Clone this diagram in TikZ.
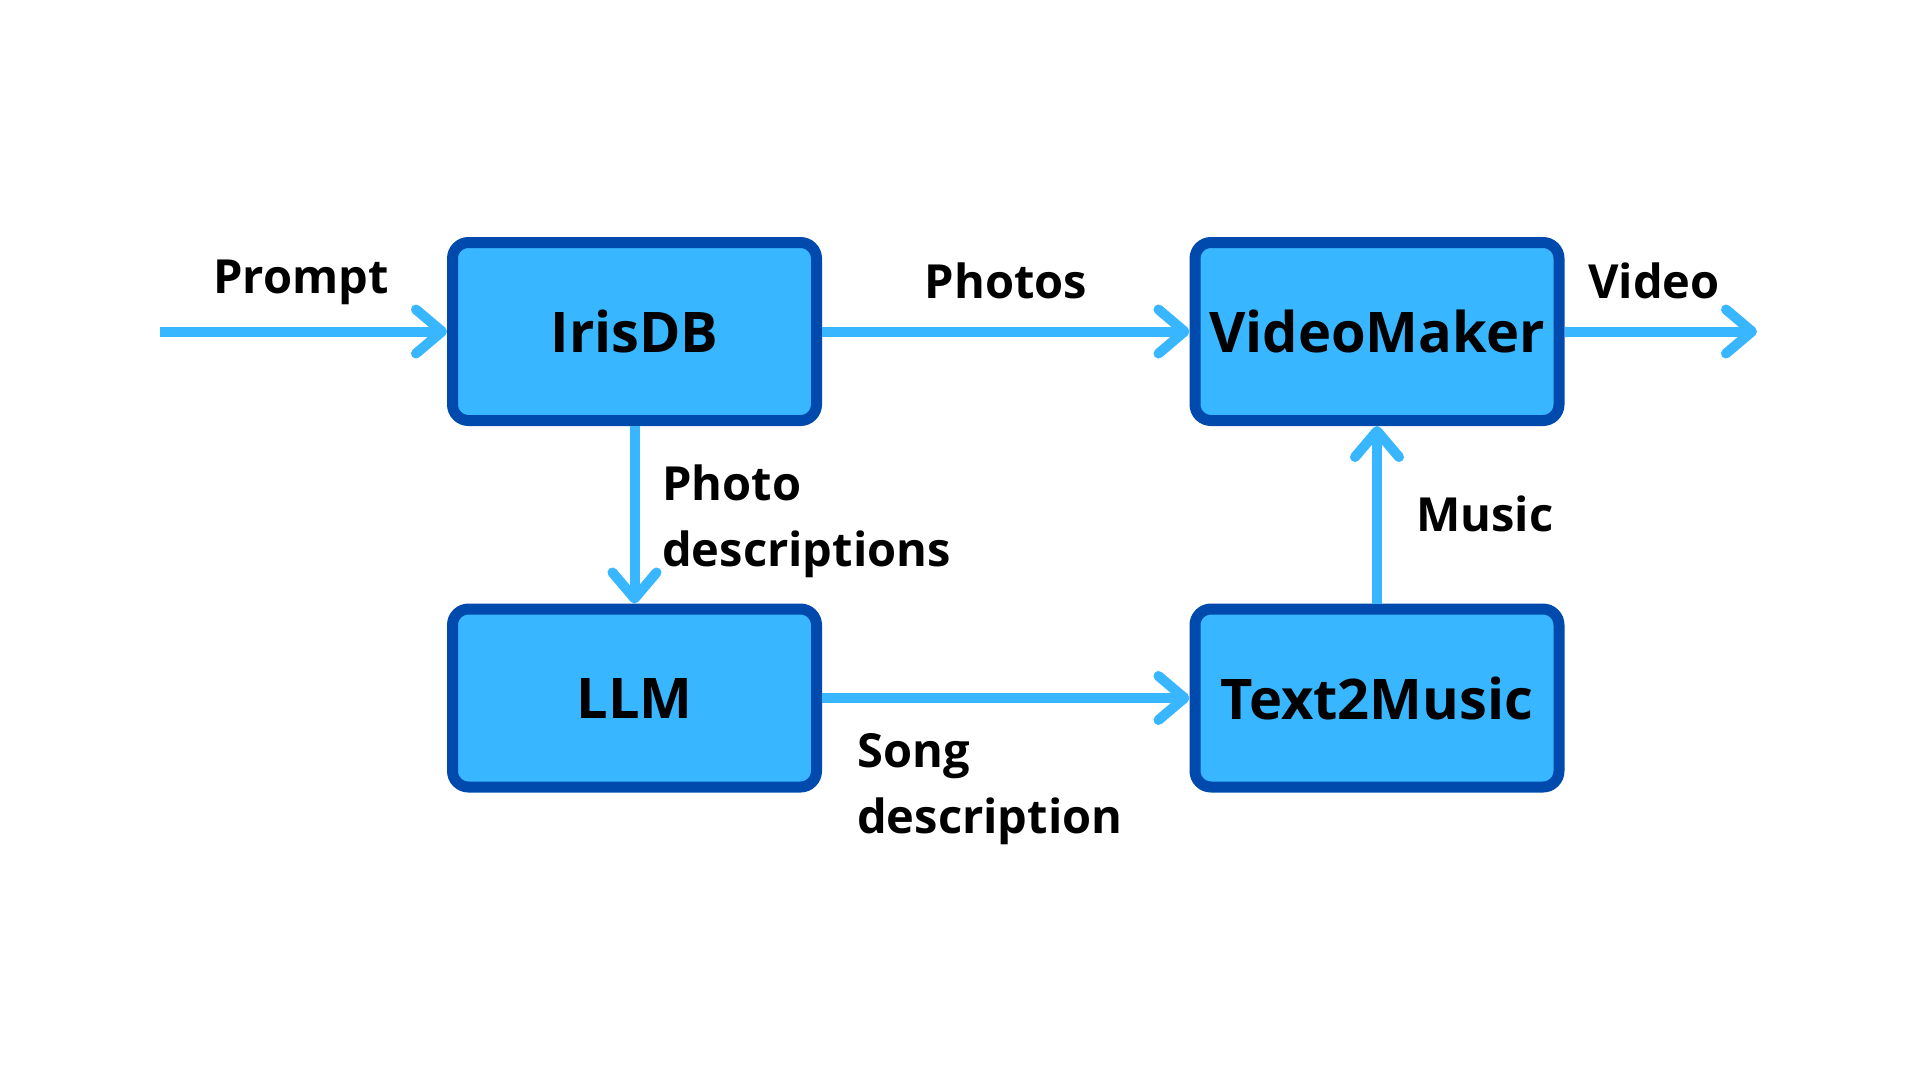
\documentclass[tikz,border=0pt]{standalone}
\usepackage{fontspec}
\setmainfont{Open Sans}
\usetikzlibrary{arrows.meta}
\definecolor{boxfill}{HTML}{38B6FF}
\definecolor{boxline}{HTML}{004AAD}
\definecolor{arrowc}{HTML}{38B6FF}
\tikzset{
  blk/.style={draw=boxline, fill=boxfill, line width=11pt, rounded corners=16pt,
    minimum width=364pt, minimum height=178pt, inner sep=0pt,
    font=\fontsize{56}{66}\selectfont\bfseries},
  lbl/.style={inner sep=0pt, align=left, font=\fontsize{47}{66}\selectfont\bfseries},
  flow/.style={draw=arrowc, line width=10pt, -{Straight Barb[length=26pt,width=44pt,round]}},
}
\begin{document}
\begin{tikzpicture}[x=1pt,y=-1pt]
\useasboundingbox (0,0) rectangle (1920,1080);
\fill[white] (0,0) rectangle (1920,1080);
\node[blk] (iris) at (634.5,331.5) {IrisDB};
\node[blk] (video) at (1377,331.5) {VideoMaker};
\node[blk] (llm) at (634.5,698) {LLM};
\node[blk] (music) at (1377,698) {Text2Music};
\coordinate (in) at (160,331.5);
\coordinate (out) at (1757,331.5);
\draw[flow] (in) -- (iris.west);
\draw[flow] (iris.east) -- (video.west);
\draw[flow] (video.east) -- (out);
\draw[flow] (iris.south) -- (llm.north);
\draw[flow] (llm.east) -- (music.west);
\draw[flow] (music.north) -- (video.south);
\node[lbl, anchor=base] (lprompt) at (301,293) {Prompt};
\node[lbl, anchor=base] (lphotos) at (1006,298) {Photos};
\node[lbl, anchor=base] (lvideo) at (1654,298) {Video};
\node[lbl, anchor=base west] (lpd) at (662,566) {Photo\\descriptions};
\node[lbl, anchor=base west] (lmusic) at (1416,531) {Music};
\node[lbl, anchor=base west] (lsong) at (857,833) {Song\\description};
\end{tikzpicture}
\end{document}
